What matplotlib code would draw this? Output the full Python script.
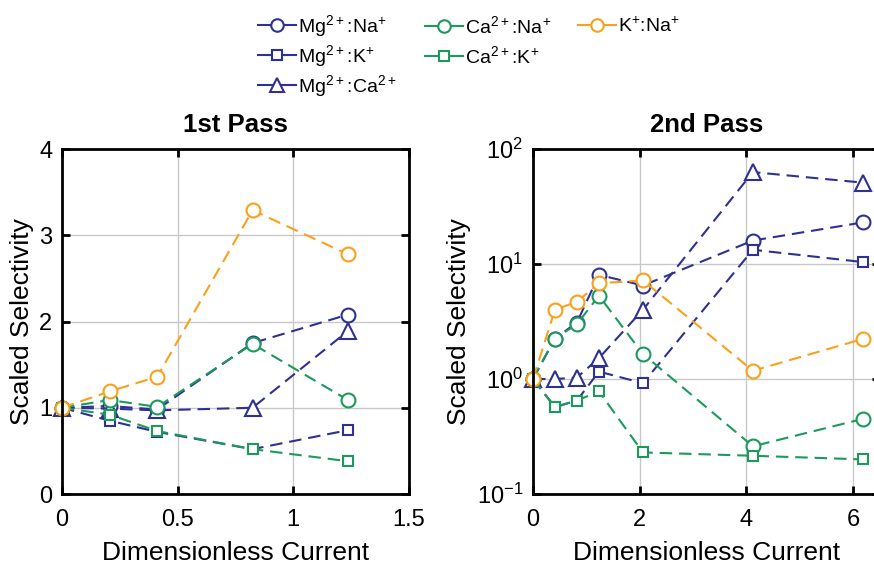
import matplotlib
matplotlib.use("Agg")
import matplotlib.pyplot as plt
from matplotlib.lines import Line2D
from matplotlib.ticker import FixedLocator, NullLocator

plt.rcParams['font.family'] = ['Liberation Sans', 'DejaVu Sans']
plt.rcParams['mathtext.default'] = 'regular'

navy = '#2E3192'
green = '#1B9A5C'
orange = '#F9A11B'

# dimensionless current
x1 = [0, 0.206, 0.412, 0.824, 1.236]
x2 = [0, 0.412, 0.824, 1.236, 2.06, 4.12, 6.18]

labels = [r'Mg$^{2+}$:Na$^{+}$', r'Mg$^{2+}$:K$^{+}$', r'Mg$^{2+}$:Ca$^{2+}$',
          r'Ca$^{2+}$:Na$^{+}$', r'Ca$^{2+}$:K$^{+}$', r'K$^{+}$:Na$^{+}$']

# 1st pass
p1_mg_na = [1, 1.02, 0.98, 1.75, 2.08]
p1_mg_k = [1, 0.85, 0.72, 0.52, 0.74]
p1_mg_ca = [1, 0.99, 0.97, 1.0, 1.89]
p1_ca_na = [1, 1.09, 1.01, 1.74, 1.09]
p1_ca_k = [1, 0.92, 0.73, 0.52, 0.38]
p1_k_na = [1, 1.19, 1.36, 3.29, 2.78]

# 2nd pass
p2_mg_na = [1, 2.25, 3.1, 8.05, 6.5, 16.0, 23.0]
p2_mg_k = [1, 0.57, 0.65, 1.16, 0.92, 13.3, 10.4]
p2_mg_ca = [1, 1.0, 1.03, 1.52, 4.0, 63, 51]
p2_ca_na = [1, 2.25, 3.0, 5.3, 1.65, 0.26, 0.45]
p2_ca_k = [1, 0.57, 0.65, 0.78, 0.23, 0.215, 0.20]
p2_k_na = [1, 4.0, 4.7, 6.8, 7.2, 1.18, 2.23]

colors = [navy, navy, navy, green, green, orange]
markers = ['o', 's', '^', 'o', 's', 'o']
msizes = [10, 7.5, 11, 10, 7.5, 10]

fig = plt.figure(figsize=(8.74, 5.64), dpi=100)
ax1 = fig.add_axes([0.0709, 0.1241, 0.397, 0.6117])
ax2 = fig.add_axes([0.6098, 0.1241, 0.397, 0.6117])

series1 = [p1_mg_na, p1_mg_k, p1_mg_ca, p1_ca_na, p1_ca_k, p1_k_na]
series2 = [p2_mg_na, p2_mg_k, p2_mg_ca, p2_ca_na, p2_ca_k, p2_k_na]

for ax, xs, series in [(ax1, x1, series1), (ax2, x2, series2)]:
    for ys, c, m, ms in zip(series, colors, markers, msizes):
        ax.plot(xs, ys, color=c, marker=m, markersize=ms, markerfacecolor='white',
                markeredgewidth=1.5, linewidth=1.5, linestyle=(0, (6, 3.3)), clip_on=False)

ax1.set_xlim(0, 1.5)
ax1.set_ylim(0, 4)
ax1.set_xticks([0, 0.5, 1, 1.5])
ax1.set_xticklabels(['0', '0.5', '1', '1.5'])
ax1.set_yticks([0, 1, 2, 3, 4])
ax1.set_title('1st Pass', fontsize=18.5, fontweight='bold', pad=12)

ax2.set_yscale('log')
ax2.set_xlim(0, 6.5)
ax2.set_ylim(0.1, 100)
ax2.set_xticks([0, 2, 4, 6])
ax2.yaxis.set_major_locator(FixedLocator([0.1, 1, 10, 100]))
ax2.yaxis.set_minor_locator(NullLocator())
ax2.set_title('2nd Pass', fontsize=18.5, fontweight='bold', pad=12)

for ax in (ax1, ax2):
    ax.grid(True, color='#c8c8c8', linewidth=1)
    ax.set_axisbelow(True)
    for s in ax.spines.values():
        s.set_linewidth(2)
    ax.tick_params(direction='in', length=6, width=2, top=True, right=True, labelsize=17)
    ax.tick_params(axis='x', pad=11)
    ax.tick_params(axis='y', pad=7)
    ax.set_xlabel('Dimensionless Current', fontsize=19, labelpad=7)
    ax.set_ylabel('Scaled Selectivity', fontsize=19, labelpad=4)

handles = []
for c, m, ms, lab in zip(colors, markers, msizes, labels):
    handles.append(Line2D([], [], color=c, marker=m, markersize=ms * 0.9, markerfacecolor='white',
                          markeredgewidth=1.5, linewidth=1.5, label=lab))

# legend grid: one small legend per entry so rows and columns line up
col_x = [258, 258, 258, 425, 425, 578]
row_y = [26, 56, 86, 26, 56, 26]
for h, xpix, ypix in zip(handles, col_x, row_y):
    fig.legend(handles=[h], loc='center left', bbox_to_anchor=(xpix / 874, 1 - ypix / 564),
               borderpad=0, borderaxespad=0, frameon=False, fontsize=14,
               handlelength=1.95, handletextpad=0.1)

fig.savefig('out.png', dpi=100)
